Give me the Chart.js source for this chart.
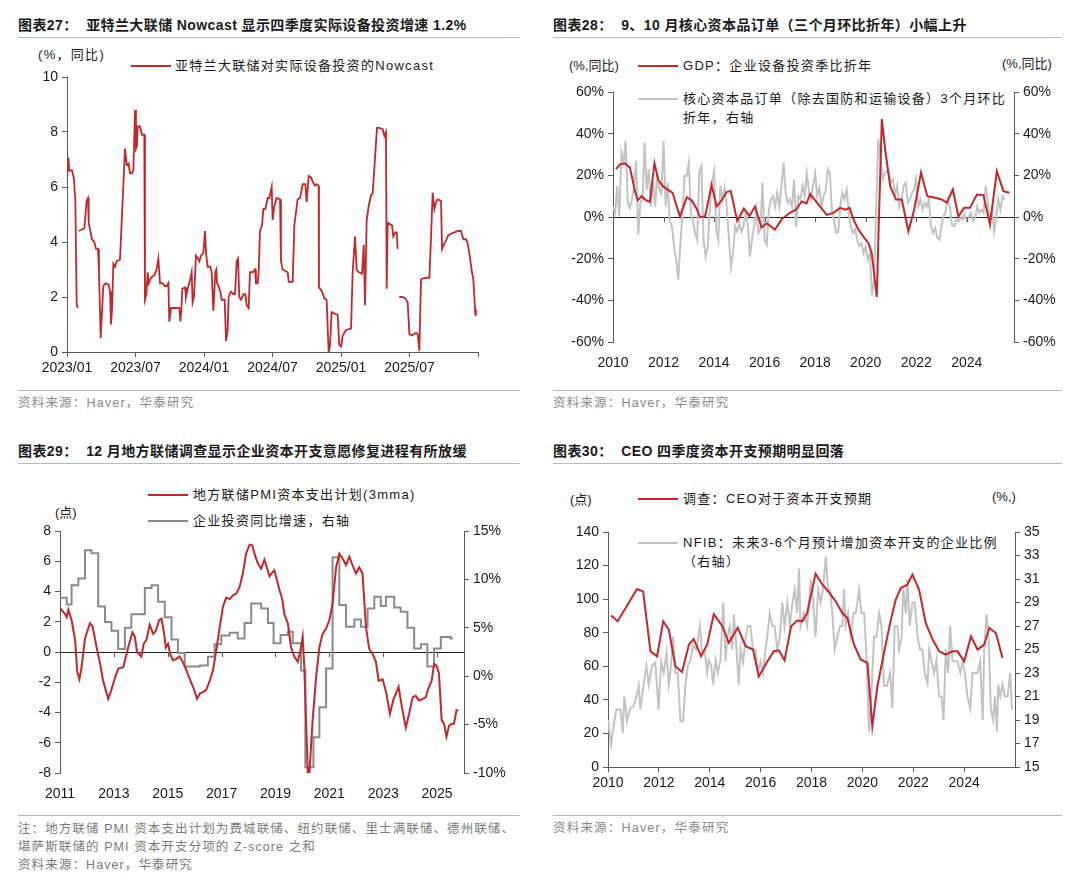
<!DOCTYPE html>
<html lang="zh">
<head>
<meta charset="UTF-8">
<title>设备投资图表</title>
<script src="https://cdn.jsdelivr.net/npm/chart.js"></script>
<style>
  body { margin:0; width:1080px; height:884px; background:#fff; position:relative; overflow:hidden;
         font-family:"Liberation Sans","Noto Sans CJK SC",sans-serif; color:#1a1a1a; }
  .title { position:absolute; font-weight:bold; font-size:14px; line-height:20px; letter-spacing:0.4px;
           border-bottom:1px solid #aebccb; padding-bottom:2px; white-space:nowrap; }
  .src { position:absolute; font-size:12.5px; line-height:17px; color:#8a8a8a; letter-spacing:1.2px;
         border-top:1px solid #aebccb; padding-top:4px; white-space:nowrap; }
  .box { position:absolute; }
  .lg { position:absolute; font-size:13px; letter-spacing:1.3px; white-space:nowrap; line-height:19px; }
  .sw { position:absolute; width:40px; height:2px; }
  .red { background:#c0282b; }
  .lgray { background:#c3c3c3; }
  .dgray { background:#8a8a8a; }
</style>
</head>
<body>
  <!-- 图表27 -->
  <div class="title" style="left:18px;top:15px;width:502px">图表27：&nbsp; 亚特兰大联储 Nowcast 显示四季度实际设备投资增速 1.2%</div>
  <div class="lg" style="left:38px;top:45px">(%，同比)</div>
  <div class="sw red" style="left:131px;top:65px;width:40px"></div>
  <div class="lg" style="left:175px;top:56px">亚特兰大联储对实际设备投资的Nowcast</div>
  <div class="box" style="left:17px;top:60px;width:481px;height:322px"><canvas id="c1"></canvas></div>
  <div class="src" style="left:18px;top:390px;width:502px">资料来源：Haver，华泰研究</div>

  <!-- 图表28 -->
  <div class="title" style="left:553px;top:15px;width:509px">图表28：&nbsp; 9、10 月核心资本品订单（三个月环比折年）小幅上升</div>
  <div class="lg" style="left:569px;top:56px;letter-spacing:0">(%,同比)</div>
  <div class="lg" style="left:1002px;top:54px;letter-spacing:0">(%,同比)</div>
  <div class="sw red" style="left:638px;top:65px"></div>
  <div class="lg" style="left:683px;top:56px">GDP：企业设备投资季比折年</div>
  <div class="sw lgray" style="left:638px;top:98px"></div>
  <div class="lg" style="left:683px;top:89px">核心资本品订单（除去国防和运输设备）3个月环比</div>
  <div class="lg" style="left:683px;top:108px">折年，右轴</div>
  <div class="box" style="left:553px;top:60px;width:510px;height:312px"><canvas id="c2"></canvas></div>
  <div class="src" style="left:553px;top:390px;width:509px">资料来源：Haver，华泰研究</div>

  <!-- 图表29 -->
  <div class="title" style="left:18px;top:441px;width:502px">图表29：&nbsp; 12 月地方联储调查显示企业资本开支意愿修复进程有所放缓</div>
  <div class="lg" style="left:55px;top:503px;letter-spacing:0">(点)</div>
  <div class="sw red" style="left:148px;top:494px"></div>
  <div class="lg" style="left:193px;top:485px">地方联储PMI资本支出计划(3mma)</div>
  <div class="sw dgray" style="left:148px;top:520px"></div>
  <div class="lg" style="left:193px;top:511px">企业投资同比增速，右轴</div>
  <div class="box" style="left:17px;top:500px;width:505px;height:302px"><canvas id="c3"></canvas></div>
  <div class="src" style="left:18px;top:815px;width:502px;line-height:18px;color:#7a7a7a;letter-spacing:1.1px">注：地方联储 PMI 资本支出计划为费城联储、纽约联储、里士满联储、德州联储、<br>堪萨斯联储的 PMI 资本开支分项的 Z-score 之和<br>资料来源：Haver，华泰研究</div>

  <!-- 图表30 -->
  <div class="title" style="left:553px;top:441px;width:509px">图表30：&nbsp; CEO 四季度资本开支预期明显回落</div>
  <div class="lg" style="left:570px;top:490px;letter-spacing:0">(点)</div>
  <div class="lg" style="left:992px;top:487px;letter-spacing:0">(%,)</div>
  <div class="sw red" style="left:638px;top:498px"></div>
  <div class="lg" style="left:683px;top:489px">调查：CEO对于资本开支预期</div>
  <div class="sw lgray" style="left:638px;top:542px"></div>
  <div class="lg" style="left:683px;top:533px">NFIB：未来3-6个月预计增加资本开支的企业比例</div>
  <div class="lg" style="left:683px;top:552px">（右轴）</div>
  <div class="box" style="left:553px;top:500px;width:510px;height:297px"><canvas id="c4"></canvas></div>
  <div class="src" style="left:553px;top:815px;width:509px">资料来源：Haver，华泰研究</div>

<script>
// ---- 图表27: Atlanta Fed nowcast (x = months since 2023/01) ----
const nowcastTicks = [0, 6, 12, 18, 24, 30, 36];
const nowcastTickLabels = ['2023/01', '2023/07', '2024/01', '2024/07', '2025/01', '2025/07', ''];
const nowcastMonths = [0, 0.12, 0.2, 0.44, 0.61, 0.73, 0.85, 0.96, 0.99, 1.02, 1.52, 1.72, 1.84, 1.9, 2.19, 2.39, 2.54, 2.72, 2.8,
  2.95, 3.18, 3.36, 3.65, 3.77, 3.85, 3.94, 4.06, 4.2, 4.35, 4.64, 4.82, 5.08, 5.23, 5.4, 5.52, 5.69, 5.81, 5.96, 6.04,
  6.13, 6.19, 6.39, 6.57, 6.77, 6.83, 6.95, 7.07, 7.15, 7.36, 7.65, 7.85, 8.0, 8.15, 8.38, 8.55, 8.76, 8.88, 8.96, 9.11,
  9.84, 9.93, 10.01, 10.1, 10.34, 10.42, 10.57, 10.77, 10.92, 11.0, 11.12, 11.3, 11.47, 11.59, 11.74, 11.94, 12.09, 12.18,
  12.32, 12.55, 12.67, 12.82, 12.99, 13.08, 13.14, 13.26, 13.43, 13.55, 13.81, 13.93, 14.07, 14.16, 14.36, 14.6, 14.72,
  14.86, 14.98, 15.09, 15.24, 15.47, 15.62, 15.74, 15.91, 16.03, 16.26, 16.47, 16.55, 16.7, 16.79, 16.9, 17.08, 17.2,
  17.37, 17.58, 17.72, 17.93, 18.01, 18.16, 18.36, 18.66, 18.74, 18.89, 19.33, 19.42, 19.77, 19.91, 20.2, 20.41, 20.64,
  20.88, 20.99, 21.17, 21.37, 21.52, 21.72, 21.87, 22.04, 22.07, 22.34, 22.54, 22.74, 22.92, 23.04, 23.18, 23.42, 23.71,
  23.85, 24.0, 24.15, 24.44, 24.88, 25.02, 25.23, 25.37, 25.55, 25.84, 25.99, 26.1, 26.25, 26.42, 26.63, 26.77, 27.01,
  27.15, 27.36, 27.65, 27.8, 27.94, 28.0, 28.09, 28.29, 28.47, 28.58, 28.76, 28.88, 28.96, 29.03, 29.11, 29.4, 29.64,
  29.84, 29.99, 30.22, 30.57, 30.72, 30.86, 31.01, 31.45, 31.74, 31.88, 32.03, 32.18, 32.32, 32.47, 32.76, 32.85, 33.05,
  33.2, 33.4, 33.64, 33.93, 34.22, 34.51, 34.72, 34.95, 35.09, 35.24, 35.47, 35.59, 35.77, 35.82];
const nowcastValues = [6.3, 7.07, 6.6, 6.6, 6.3, 5.5, 1.7, 1.6, null, 4.4, 4.5, 5.5, 5.6, 4.7, 4.1, 4.0, 3.75, 3.75, 2.9,
  0.5, 2.4, 2.5, 2.45, 2.2, 1.0, 1.5, 3.2, 3.1, 3.3, 3.35, 5.0, 7.4, 6.8, 6.85, 6.5, 6.5, 6.6, 8.8, 7.4,
  7.5, 8.2, 8.2, 7.9, 7.9, 1.9, 2.1, 2.9, 2.5, 2.7, 2.8, 3.0, 3.4, 2.5, 2.5, 2.4, 2.4, 2.5, 1.1, 1.6,
  1.6, 1.1, 1.5, 2.3, 2.35, 2.0, 2.3, 2.6, 2.9, 1.8, 2.0, 3.5, 3.4, 3.3, 3.5, 3.6, 4.4, 3.6,
  3.1, 3.1, 2.9, 1.5, 2.9, 3.0, 2.5, 2.4, 2.2, 1.9, 1.9, 0.4, 0.8, 2.0, 2.2, 2.1, 2.1,
  3.3, 3.4, 2.0, 1.9, 2.1, 2.1, 1.7, 1.6, 2.9, 2.9, 3.0, 2.5, 2.5, 2.9, 4.4, 4.6, 5.2,
  5.2, 5.6, 5.6, 6.0, 4.8, 5.3, 5.6, 5.55, 3.3, 3.0, 2.9, 2.55, 2.55, 4.6, 5.55, 5.6, 6.1,
  6.1, 5.45, 6.4, 6.35, 6.2, 6.05, 6.1, 6.05, 2.35, 2.2, 1.95, 1.9, 0, 0.25, 1.45, 1.4, 1.35,
  0.25, 0.2, 0.6, 0.8, 0.85, 2.9, 4.2, 3.0, 2.9, 2.85, 3.9, 1.7, 4.8, 5.3, 5.7, 5.75, 7.25,
  8.15, 8.15, 8.1, 7.85, 8.0, 2.3, 4.7, 4.65, 4.6, 4.2, 4.35, 4.35, 3.75, null, 2.0, 2.0, 1.95,
  1.8, 0.65, 0.6, 0.7, 0.65, 0.05, 2.65, 2.7, 2.7, 4.1, 5.8, 5.2, 5.45, 5.55, 5.5, 3.75, 3.95,
  4.05, 4.25, 4.3, 4.35, 4.4, 4.4, 4.1, 4.1, 3.95, 3.6, 2.9, 2.65, 1.35, 1.55];

// ---- 图表28: GDP equipment investment (qoq saar) and core capex orders (3m saar, right axis) ----
const evenYearTicks = [2010, 2012, 2014, 2016, 2018, 2020, 2022, 2024];
const gdpYears = [2010.12, 2010.28, 2010.47, 2010.67, 2010.87, 2010.98, 2011.13, 2011.31, 2011.46, 2011.64, 2011.79,
  2011.97, 2012.12, 2012.36, 2012.52, 2012.65, 2012.92, 2013.11, 2013.31, 2013.44, 2013.64, 2013.77, 2013.9, 2014.1,
  2014.3, 2014.5, 2014.66, 2014.92, 2015.18, 2015.4, 2015.62, 2015.88, 2016.08, 2016.41, 2016.68, 2017.0, 2017.24,
  2017.47, 2017.66, 2017.8, 2018.2, 2018.46, 2018.72, 2018.99, 2019.19, 2019.36, 2019.52, 2019.71, 2019.91, 2020.11,
  2020.24, 2020.44, 2020.5, 2020.64, 2020.77, 2020.97, 2021.2, 2021.43, 2021.69, 2021.92, 2022.19, 2022.44, 2022.75,
  2023.01, 2023.21, 2023.45, 2023.67, 2023.9, 2024.13, 2024.4, 2024.66, 2024.92, 2025.19, 2025.45, 2025.69];
const gdpValues = [23, 25.3, 25.8, 23.7, 12.4, 8, 10, 8, 7.3, 25.8, 18,
  14.8, 13.5, 11.6, 5.2, 0.3, 9.5, 8, 4, 0, 0.3, 7.5, 15.5, 5,
  8, 12, 12.5, -2, 4, 0.5, 5, -5, -3, -6, -1, 2, 3.5,
  7.5, 6.5, 11, 5, 1, 2, 4.4, 3.5, 4.4, -1.3, -6, -9.4, -12.6,
  -17.4, -38.4, -11, 47, 32.6, 14.8, 8.4, 8.4, -6.9, 3.5, 21.3, 10, 9.2,
  8.4, 6.8, 13.2, 0.3, 4.4, 4.4, 10.8, 10.5, -3.7, 22, 12.4, 11.6];
const ordersStartYear = 2010; // monthly from 2010/01
const ordersValues = [5, 2, 15, 0.3, 31, 26, 36.6, 7, 4.4, 8.4, 15, 27, -8.5, 7, 8.4, 35.8, 13, 23, 5, 17, 5, 21, 13, 11,
  36.6, 5, 16.5, -2, -4.5, -14, -20.6, -30, -12.6, 2, 19.7, 19.7, 26, 2, -2, -7.7, -11, 22, 24.5, -11, -19, -14, 5, 16.5,
  22, -6, -11, 15, 8.4, 14, 5, -9.4, -24, -17.4, -4.5, -7, -3, -7, -4.5, 2, -3.7, -19, -11, -4.5, 3.5, -7.7, -6, 16.5,
  -11, -13.4, 3.5, 8.4, 10, 5, 11.6, 5, 15, 26, 11.6, 6.8, 8.4, 5, 18, -4.5, 10, 8.4, 15, 10, 21, 13, 8.4, 15,
  21, 10, 14, 5, 10, 12.4, 23, 21, 2, -2, -7.7, -7, 6, 11.6, 8.4, 13, 2, -4.5, -7.7, -6,
  -11, -14, -12.6, -17.4, -14, -20.6, -17.4, -37.6, -30, 5, 37.4, 29, 18, 21, 22, 21, 16.5, 18, 10, 15,
  5, 8.4, 15, 16.5, 6.8, 8.4, 11.6, 13, 18, 5, 8.4, 3.5, 6.8, 5, 8.4, -4.5, -7.7, -5.3, -10, -11,
  -4.5, 0.3, 2.7, 8.4, 5, -3.7, -4.5, -1.3, -2, -0.5, -1.3, 1.1, -2, 0.3, 2, -2, -0.5, 5, 2, 3.5,
  2, 15, 6.8, -1.3, 3.5, -7, 0.3, 8.4, 3.5, 10, 8.4];

// ---- 图表29: regional Fed PMI capex plans (3mma) and business investment yoy (right axis) ----
const oddYearTicks = [2011, 2013, 2015, 2017, 2019, 2021, 2023, 2025];
const pmiYears = [2011.0, 2011.19, 2011.25, 2011.31, 2011.43, 2011.56, 2011.64, 2011.72, 2011.8, 2011.93, 2012.11,
  2012.21, 2012.36, 2012.48, 2012.6, 2012.79, 2012.91, 2013.04, 2013.16, 2013.35, 2013.53, 2013.69, 2013.78, 2013.86,
  2014.02, 2014.11, 2014.21, 2014.33, 2014.46, 2014.56, 2014.68, 2014.77, 2014.85, 2014.93, 2015.01, 2015.1, 2015.2,
  2015.32, 2015.44, 2015.57, 2015.69, 2015.84, 2015.94, 2016.09, 2016.19, 2016.31, 2016.43, 2016.56, 2016.68, 2016.8,
  2016.93, 2017.05, 2017.17, 2017.3, 2017.42, 2017.54, 2017.67, 2017.79, 2017.91, 2018.04, 2018.14, 2018.22, 2018.35,
  2018.47, 2018.59, 2018.78, 2018.9, 2018.96, 2019.15, 2019.25, 2019.33, 2019.46, 2019.58, 2019.7, 2019.83, 2019.95,
  2020.01, 2020.07, 2020.2, 2020.26, 2020.38, 2020.51, 2020.63, 2020.75, 2020.88, 2021.0, 2021.12, 2021.25, 2021.37,
  2021.49, 2021.62, 2021.74, 2021.86, 2021.99, 2022.11, 2022.23, 2022.36, 2022.48, 2022.6, 2022.73, 2022.83, 2022.98,
  2023.12, 2023.25, 2023.37, 2023.47, 2023.57, 2023.69, 2023.84, 2023.96, 2024.09, 2024.21, 2024.33, 2024.46, 2024.58,
  2024.68, 2024.8, 2024.89, 2024.98, 2025.07, 2025.17, 2025.26, 2025.35, 2025.44, 2025.54, 2025.63, 2025.72, 2025.79];
const pmiValues = [2.9, 2.5, 2.3, 2.8, 2.1, 0.8, -1.3, -1.8, -1.0, 0.9, 1.9,
  1.7, 0.3, -0.7, -1.9, -3.1, -2.5, -1.7, -1.1, -1.0, 0.3, 1.3, 1.0, 0,
  -0.3, 0.55, 0.8, 1.8, 1.2, 1.4, 2.1, 2.2, 1.4, 0.3, 0.55, -0.2, -0.55,
  -0.45, -0.3, -0.7, -1.2, -1.9, -2.3, -3.1, -2.75, -2.65, -2.5, -1.9, -1.2, 0.1,
  1.65, 3.0, 3.6, 3.5, 3.75, 3.85, 4.3, 5.2, 6.5, 7.1, 7.05, 6.5, 5.85,
  5.5, 6.1, 5.0, 5.3, 5.4, 4.1, 3.5, 2.5, 1.9, 0.3, -0.3, -0.65, 0.3,
  1.0, -1.0, -8.0, -8.0, -4.5, -1.65, 0.3, 1.2, 1.55, 2.1, 3.2, 5.6, 6.5,
  6.2, 5.75, 6.3, 5.75, 5.2, 5.6, 5.2, 1.65, 0.2, -0.1, -0.65, -1.9, -1.8,
  -2.75, -4.1, -3.2, -2.75, -2.3, -3.6, -5.0, -4.1, -3.0, -2.9, -3.2, -3.1, -3.0,
  -2.4, -1.9, -0.8, -0.9, -1.4, -4.5, -4.75, -5.6, -4.9, -4.75, -4.75, -3.85, -3.85];
const invYears = [2011.0, 2011.25, 2011.43, 2011.68, 2011.93, 2012.17, 2012.42, 2012.67, 2012.91, 2013.16, 2013.41,
  2013.65, 2014.15, 2014.4, 2014.64, 2014.89, 2015.14, 2015.38, 2015.63, 2016.19, 2016.49, 2016.74, 2016.99, 2017.3,
  2017.6, 2017.85, 2018.1, 2018.47, 2018.72, 2018.93, 2019.19, 2019.46, 2019.64, 2019.95, 2020.11, 2020.41, 2020.63,
  2020.88, 2021.12, 2021.37, 2021.62, 2021.93, 2022.17, 2022.42, 2022.67, 2022.91, 2023.1, 2023.41, 2023.65, 2023.9,
  2024.15, 2024.4, 2024.64, 2024.89, 2025.14, 2025.51, 2025.59];
const invValues = [8.1, 7.4, 9.4, 10.1, 13.0, 12.7, 7.2, 5.6, 4.7, 2.8, 5.0,
  6.4, 9.1, 9.4, 7.7, 6.1, 3.8, 2.4, 1.0, 1.1, 2.0, 3.3, 4.2, 4.5,
  3.9, 5.5, 7.5, 7.0, 5.5, 3.4, 4.25, 4.6, 3.4, 0.6, -9.4, -6.3, -3.2,
  0.8, 12.3, 7.35, 5.1, 5.85, 5.1, 7.0, 8.2, 7.25, 8.2, 7.1, 6.65, 5.0,
  2.85, 3.3, 1.0, 2.85, 4.05, 3.9, 3.9];

// ---- 图表30: CEO capex outlook and NFIB capex plans (right axis) ----
const ceoYears = [2010.12, 2010.38, 2011.14, 2011.38, 2011.67, 2011.93, 2012.17, 2012.39, 2012.65, 2012.91, 2013.18,
  2013.37, 2013.66, 2013.9, 2014.16, 2014.49, 2014.75, 2015.1, 2015.41, 2015.7, 2015.93, 2016.23, 2016.52, 2016.72,
  2016.94, 2017.2, 2017.44, 2017.64, 2017.83, 2018.16, 2018.43, 2018.69, 2018.95, 2019.21, 2019.41, 2019.67, 2019.93,
  2020.2, 2020.39, 2020.59, 2020.85, 2021.12, 2021.31, 2021.51, 2021.77, 2021.97, 2022.23, 2022.49, 2022.76, 2023.02,
  2023.28, 2023.54, 2023.74, 2024.0, 2024.27, 2024.53, 2024.79, 2024.99, 2025.25, 2025.51];
const ceoValues = [90.2, 86.8, 106, 104.6, 68.9, 65.9, 86.8, 81.8, 60, 56.6, 72.9,
  76.2, 66, 73, 91, 84, 74, 83, 72, 70, 54, 62, 69, 69.5,
  63.5, 83.8, 87.2, 86.8, 91.7, 115.2, 108.6, 104, 98.7, 91.7, 88.8, 72.9, 64.1,
  62, 24.2, 48.1, 67.9, 87.8, 99.7, 106.6, 108.6, 114.6, 105.6, 85.8, 75.9, 68.9,
  66.9, 68.9, 68.9, 62.9, 77.8, 69.9, 72.9, 82.8, 79.8, 64.9];
const nfibYears = [2010.0, 2010.12, 2010.22, 2010.33, 2010.49, 2010.58, 2010.64, 2010.75, 2010.85, 2011.01, 2011.12,
  2011.21, 2011.27, 2011.4, 2011.51, 2011.6, 2011.73, 2011.86, 2011.99, 2012.09, 2012.19, 2012.3, 2012.39, 2012.45,
  2012.56, 2012.65, 2012.74, 2012.85, 2012.95, 2013.04, 2013.14, 2013.24, 2013.35, 2013.48, 2013.61, 2013.7, 2013.79,
  2013.9, 2013.96, 2014.06, 2014.13, 2014.23, 2014.32, 2014.42, 2014.53, 2014.62, 2014.69, 2014.79, 2014.88, 2014.95,
  2015.05, 2015.14, 2015.21, 2015.31, 2015.41, 2015.5, 2015.6, 2015.7, 2015.8, 2015.89, 2016.0, 2016.1, 2016.19,
  2016.26, 2016.36, 2016.46, 2016.55, 2016.65, 2016.76, 2016.85, 2016.94, 2017.05, 2017.15, 2017.24, 2017.34, 2017.44,
  2017.51, 2017.57, 2017.7, 2017.83, 2017.97, 2018.07, 2018.16, 2018.26, 2018.36, 2018.45, 2018.56, 2018.65, 2018.73,
  2018.82, 2018.91, 2019.02, 2019.12, 2019.21, 2019.28, 2019.34, 2019.44, 2019.54, 2019.65, 2019.74, 2019.87, 2019.96,
  2020.07, 2020.17, 2020.26, 2020.35, 2020.46, 2020.56, 2020.66, 2020.75, 2020.85, 2020.96, 2021.09, 2021.18, 2021.27,
  2021.38, 2021.44, 2021.54, 2021.61, 2021.71, 2021.77, 2021.86, 2021.97, 2022.06, 2022.17, 2022.27, 2022.36, 2022.45,
  2022.56, 2022.63, 2022.72, 2022.82, 2022.91, 2023.02, 2023.11, 2023.19, 2023.28, 2023.37, 2023.45, 2023.54, 2023.64,
  2023.74, 2023.85, 2023.94, 2024.03, 2024.13, 2024.24, 2024.33, 2024.42, 2024.53, 2024.63, 2024.73, 2024.79, 2024.88,
  2024.96, 2025.05, 2025.14, 2025.21, 2025.29, 2025.34, 2025.42, 2025.51, 2025.6, 2025.71, 2025.81, 2025.88];
const nfibValues = [19.0, 16.9, 18.5, 19.9, 19.9, 17.9, 21.0, 18.9, 19.9, 20.2, 21.0,
  21.9, 19.9, 22.0, 23.6, 22.0, 23.6, 23.9, 19.9, 23.9, 23.0, 24.7, 22.0, 23.0,
  26.1, 23.0, 23.0, 18.9, 18.9, 21.9, 23.6, 24.1, 25.3, 25.0, 27.0, 24.7, 25.0,
  23.0, 24.1, 23.6, 22.0, 24.1, 23.0, 24.1, 29.0, 24.0, 26.1, 27.0, 25.0, 28.0,
  25.0, 22.0, 25.0, 23.9, 26.1, 27.0, 27.0, 25.0, 25.0, 23.0, 24.0, 23.0, 25.0,
  26.1, 28.1, 27.0, 27.0, 25.0, 26.1, 29.0, 27.0, 29.0, 27.0, 28.8, 30.1, 28.1,
  31.9, 27.0, 28.1, 27.0, 31.0, 29.0, 26.1, 30.1, 29.0, 30.1, 32.9, 30.1, 30.1,
  28.1, 25.0, 26.1, 27.0, 27.0, 30.1, 27.0, 28.1, 26.1, 28.1, 28.1, 30.1, 28.1,
  28.1, 24.1, 18.0, 21.0, 26.1, 26.1, 28.1, 27.0, 21.9, 21.9, 23.0, 20.0, 27.0,
  27.0, 25.0, 26.0, 30.1, 28.1, 31.0, 27.0, 29.0, 29.0, 26.1, 25.0, 25.0, 23.0,
  22.1, 25.0, 24.0, 23.0, 24.1, 21.0, 21.0, 19.0, 25.0, 23.0, 27.0, 24.0, 24.0,
  24.0, 23.0, 24.0, 23.0, 21.0, 20.0, 23.0, 23.0, 23.0, 24.0, 19.0, 25.0, 28.0,
  26.1, 19.9, 19.0, 21.0, 18.0, 22.0, 21.0, 22.0, 21.0, 21.0, 23.0, 19.9];

const RED = '#c0282b', LGRAY = '#c3c3c3', DGRAY = '#8a8a8a', AXIS = '#595959';
const tickFont = { family: 'Liberation Sans, Arial, sans-serif', size: 14 };

const pts = (xs, ys) => xs.map((x, i) => ({ x, y: ys[i] }));

// short tick marks hanging off the zero line (as in the source charts)
const zeroTicks = {
  id: 'zeroTicks',
  afterDatasetsDraw(chart, args, opts) {
    if (!opts.axis) return;
    const xs = chart.scales.x, ys = chart.scales[opts.axis];
    const y0 = ys.getPixelForValue(0);
    const ctx = chart.ctx;
    ctx.save();
    ctx.strokeStyle = AXIS;
    ctx.lineWidth = 1;
    xs.ticks.forEach(t => {
      const px = Math.round(xs.getPixelForValue(t.value)) + 0.5;
      ctx.beginPath(); ctx.moveTo(px, y0); ctx.lineTo(px, y0 + 5); ctx.stroke();
    });
    ctx.restore();
  }
};

function yScale(position, min, max, step, width, fmt, zeroLine) {
  return {
    type: 'linear', position, min, max,
    afterFit(s) { s.width = width; },
    border: { display: true, color: AXIS, width: 1 },
    grid: {
      drawOnChartArea: !!zeroLine, tickLength: 5, tickColor: AXIS,
      color: ctx => (zeroLine && ctx.tick && ctx.tick.value === 0) ? '#222' : 'rgba(0,0,0,0)'
    },
    ticks: { stepSize: step, color: '#1a1a1a', font: tickFont, padding: 4, callback: fmt || (v => v) }
  };
}

// x axis with ticks placed exactly at the given values
function xScale(min, max, tickValues, height, fmt, showBorder) {
  return {
    type: 'linear', min, max,
    afterFit(s) { s.height = height; },
    afterBuildTicks(s) { s.ticks = tickValues.map(v => ({ value: v })); },
    border: { display: showBorder, color: AXIS, width: 1 },
    grid: { drawOnChartArea: false, display: showBorder, tickLength: 5, tickColor: AXIS },
    ticks: { maxRotation: 0, autoSkip: false, color: '#1a1a1a',
             font: tickFont, padding: showBorder ? 3 : 8, callback: fmt || (v => String(v)) }
  };
}

function lineDs(data, color, width, yAxisID, extra) {
  return Object.assign({ data, borderColor: color, borderWidth: width, pointRadius: 0, fill: false,
                         tension: 0, yAxisID, spanGaps: false }, extra || {});
}

const baseOpts = (padding, scales, zeroAxis) => ({
  responsive: true, maintainAspectRatio: false, animation: false,
  layout: { padding },
  plugins: { legend: { display: false }, tooltip: { enabled: false }, zeroTicks: { axis: zeroAxis } },
  scales
});

// 图表27
new Chart(document.getElementById('c1'), {
  type: 'line',
  data: { datasets: [lineDs(pts(nowcastMonths, nowcastValues), RED, 1.8, 'y')] },
  options: baseOpts({ top: 17, right: 20 }, {
    x: xScale(0, 36, nowcastTicks, 30, (v, i) => nowcastTickLabels[i] ?? '', true),
    y: yScale('left', 0, 10, 2, 50)
  })
});

// 图表28
const pct = v => v + '%';
new Chart(document.getElementById('c2'), {
  type: 'line',
  data: { datasets: [
    lineDs(pts(gdpYears, gdpValues), RED, 2, 'y'),
    lineDs(ordersValues.map((v, i) => ({ x: ordersStartYear + i / 12, y: v })), LGRAY, 2, 'y2')
  ] },
  options: baseOpts({ top: 32 }, {
    x: xScale(2010, 2025.87, evenYearTicks, 30, null, false),
    y: yScale('left', -60, 60, 20, 60, pct, true),
    y2: yScale('right', -60, 60, 20, 49, pct)
  }, 'y'),
  plugins: [zeroTicks]
});

// 图表29
new Chart(document.getElementById('c3'), {
  type: 'line',
  data: { datasets: [
    lineDs(pts(pmiYears, pmiValues), RED, 2, 'y'),
    lineDs(pts(invYears, invValues), DGRAY, 2, 'y2', { stepped: 'before' })
  ] },
  options: baseOpts({ top: 31 }, {
    x: xScale(2011, 2026, oddYearTicks, 29, null, false),
    y: yScale('left', -8, 8, 2, 43, null, true),
    y2: yScale('right', -10, 15, 5, 58, pct)
  }, 'y'),
  plugins: [zeroTicks]
});

// 图表30
new Chart(document.getElementById('c4'), {
  type: 'line',
  data: { datasets: [
    lineDs(pts(ceoYears, ceoValues), RED, 2, 'y'),
    lineDs(pts(nfibYears, nfibValues), LGRAY, 2, 'y2')
  ] },
  options: baseOpts({ top: 32 }, {
    x: xScale(2010, 2026, evenYearTicks, 30, null, true),
    y: yScale('left', 0, 140, 20, 55),
    y2: yScale('right', 15, 35, 2, 48)
  })
});
</script>
</body>
</html>
